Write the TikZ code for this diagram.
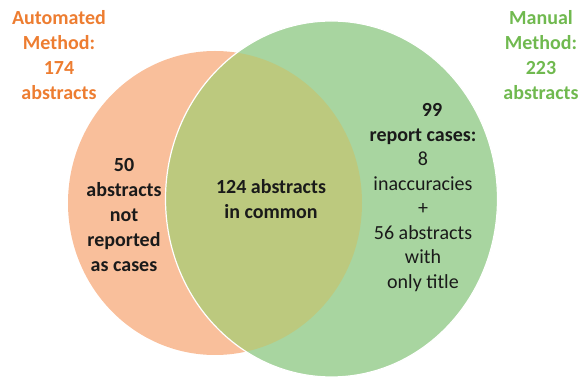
\documentclass[tikz,border=0pt]{standalone}
\usepackage{fontspec}
\setmainfont{Carlito}
\usepackage{tikz}

\definecolor{autofill}{RGB}{249,191,155}
\definecolor{manfill}{RGB}{168,213,160}
\definecolor{bothfill}{RGB}{188,201,126}
\definecolor{autotext}{RGB}{237,125,49}
\definecolor{mantext}{RGB}{112,185,79}
\definecolor{bodytext}{RGB}{26,26,26}

\tikzset{
  vtext/.style={align=center,text=bodytext,font=\fontsize{20}{24.5}\selectfont},
  vhead/.style={vtext,font=\fontsize{20}{25}\selectfont\bfseries}
}

\begin{document}
\begin{tikzpicture}[x=1pt,y=-1pt]
\useasboundingbox (0,0) rectangle (582,379);
% the two sets
\fill[autofill] (215,203) ellipse [x radius=147,y radius=152];
\fill[manfill] (331.5,199) ellipse [x radius=166,y radius=178];
\begin{scope}
  \clip (215,203) ellipse [x radius=147,y radius=152];
  \fill[bothfill] (331.5,199) ellipse [x radius=166,y radius=178];
\end{scope}
\draw[white,line width=1.2pt] (331.5,199) ellipse [x radius=166,y radius=178];
%,opacity=0.5]

\node[vhead,text=autotext] (autolabel) at (59,55) {Automated\\Method:\\174\\abstracts};
\node[vhead,text=mantext] (manlabel) at (541,55) {Manual\\Method:\\223\\abstracts};
\node[vhead] (notrep) at (124,215) {50\\abstracts\\not\\reported\\as cases};
\node[vhead] (common) at (271,199.5) {124 abstracts\\in common};
\node[vtext] (reported) at (423,197.5)
  {\textbf{\hspace*{18pt}99}\\\textbf{report cases:}\\8\\inaccuracies\\+\\56 abstracts\\with\\only title};
\end{tikzpicture}
\end{document}
